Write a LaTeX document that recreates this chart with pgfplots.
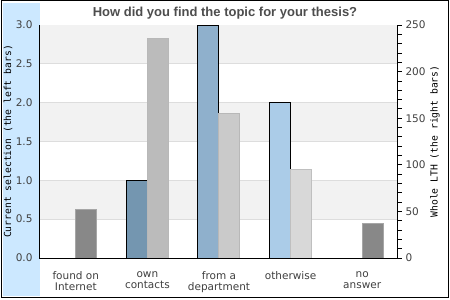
\documentclass[border=0pt]{standalone}
\usepackage{pgfplots}
\pgfplotsset{compat=1.18}
\usepackage{fontspec}
\setmainfont{DejaVu Sans}
\setmonofont{DejaVu Sans Mono}
\newfontfamily\titlefont{Liberation Sans}
\definecolor{panel}{HTML}{CCE8FF}
\definecolor{band}{HTML}{F2F2F2}
\definecolor{gridc}{HTML}{DDDDDD}
\definecolor{lbA}{HTML}{7496B0}
\definecolor{lbB}{HTML}{8FB0CC}
\definecolor{lbC}{HTML}{ABCCE8}
\definecolor{rbA}{HTML}{888888}
\definecolor{rbB}{HTML}{BBBBBB}
\definecolor{rbC}{HTML}{CACACA}
\definecolor{rbD}{HTML}{D8D8D8}
\definecolor{titlegray}{HTML}{4D4D4D}
\definecolor{txt}{HTML}{404040}
\begin{document}
\begin{tikzpicture}[x=1pt,y=1pt]
\useasboundingbox (0,0) rectangle (450,300);
\fill[white] (0,0) rectangle (450,300);
\fill[panel] (3,4) rectangle (40,297);
\draw[black, line width=1pt] (1,2.5) rectangle (448.5,299);
\begin{axis}[
  at={(40pt,42pt)}, anchor=south west, scale only axis,
  width=358pt, height=233pt,
  xmin=-0.5, xmax=4.5, ymin=0, ymax=3,
  xtick={0,1,2,3,4},
  xticklabels={{found on\\Internet},{own\\contacts},{from a\\department},{otherwise},{no\\answer}},
  xticklabel style={align=center, font=\fontsize{10.5}{11}\selectfont, text=txt, yshift=-10pt},
  ytick={0,0.5,1,1.5,2,2.5,3}, ytick pos=left, xtick pos=bottom,
  major tick length=0pt,
  /pgf/number format/assume math mode=true,
  yticklabel style={/pgf/number format/fixed, /pgf/number format/fixed zerofill, /pgf/number format/precision=1},
  every y tick label/.append style={font=\fontsize{10.5}{12}\selectfont, text=txt, xshift=-4pt},
  axis line style={black, line width=1pt},
  ylabel={Current selection (the left bars)},
  ylabel style={at={(axis description cs:-0.0894,0.5)}, anchor=center, font=\ttfamily\fontsize{9.7}{11}\selectfont, text=black},
  title={How did you find the topic for your thesis?},
  title style={at={(axis description cs:0.5,1)}, anchor=center, xshift=6pt, yshift=6pt, text=titlegray, font=\titlefont\bfseries\fontsize{13}{15}\selectfont},
]
\fill[band] (axis cs:-0.5,2.5) rectangle (axis cs:4.5,3);
\fill[band] (axis cs:-0.5,1.5) rectangle (axis cs:4.5,2);
\fill[band] (axis cs:-0.5,0.5) rectangle (axis cs:4.5,1);
\draw[gridc, line width=1pt] (axis cs:-0.5,0.5) -- (axis cs:4.5,0.5);
\draw[gridc, line width=1pt] (axis cs:-0.5,1) -- (axis cs:4.5,1);
\draw[gridc, line width=1pt] (axis cs:-0.5,1.5) -- (axis cs:4.5,1.5);
\draw[gridc, line width=1pt] (axis cs:-0.5,2) -- (axis cs:4.5,2);
\draw[gridc, line width=1pt] (axis cs:-0.5,2.5) -- (axis cs:4.5,2.5);
\addplot[ybar, bar width=21pt, bar shift=-10.5pt, fill=lbA, draw=black, line width=1pt] coordinates {(1,1.0)};
\addplot[ybar, bar width=21pt, bar shift=-10.5pt, fill=lbB, draw=black, line width=1pt] coordinates {(2,3.0)};
\addplot[ybar, bar width=21pt, bar shift=-10.5pt, fill=lbC, draw=black, line width=1pt] coordinates {(3,2.0)};
\end{axis}
\begin{axis}[
  at={(40pt,42pt)}, anchor=south west, scale only axis,
  width=358pt, height=233pt,
  xmin=-0.5, xmax=4.5, ymin=0, ymax=250,
  axis x line*=bottom, axis y line*=right, xtick=\empty,
  axis on top,
  ytick={0,50,100,150,200,250},
  minor ytick={10,20,30,40,60,70,80,90,110,120,130,140,160,170,180,190,210,220,230,240},
  tick align=outside, major tick length=4pt, minor tick length=4pt,
  tick style={black, line width=0.8pt},
  /pgf/number format/assume math mode=true,
  every y tick label/.append style={font=\fontsize{10.5}{12}\selectfont, text=txt},
  axis line style={black, line width=1pt, -},
  ylabel={Whole LTH (the right bars)},
  ylabel style={at={(axis description cs:1.1034,0.5)}, anchor=center, font=\ttfamily\fontsize{9.7}{11}\selectfont, text=black},
]
\addplot[ybar, bar width=21pt, bar shift=10.5pt, fill=rbA, draw=black!35, line width=1pt] coordinates {(0,52)};
\addplot[ybar, bar width=21pt, bar shift=10.5pt, fill=rbB, draw=black!28, line width=1pt] coordinates {(1,235)};
\addplot[ybar, bar width=21pt, bar shift=10.5pt, fill=rbC, draw=black!28, line width=1pt] coordinates {(2,155)};
\addplot[ybar, bar width=21pt, bar shift=10.5pt, fill=rbD, draw=black!25, line width=1pt] coordinates {(3,95)};
\addplot[ybar, bar width=21pt, bar shift=10.5pt, fill=rbA, draw=black!35, line width=1pt] coordinates {(4,37)};
\end{axis}
\end{tikzpicture}
\end{document}
